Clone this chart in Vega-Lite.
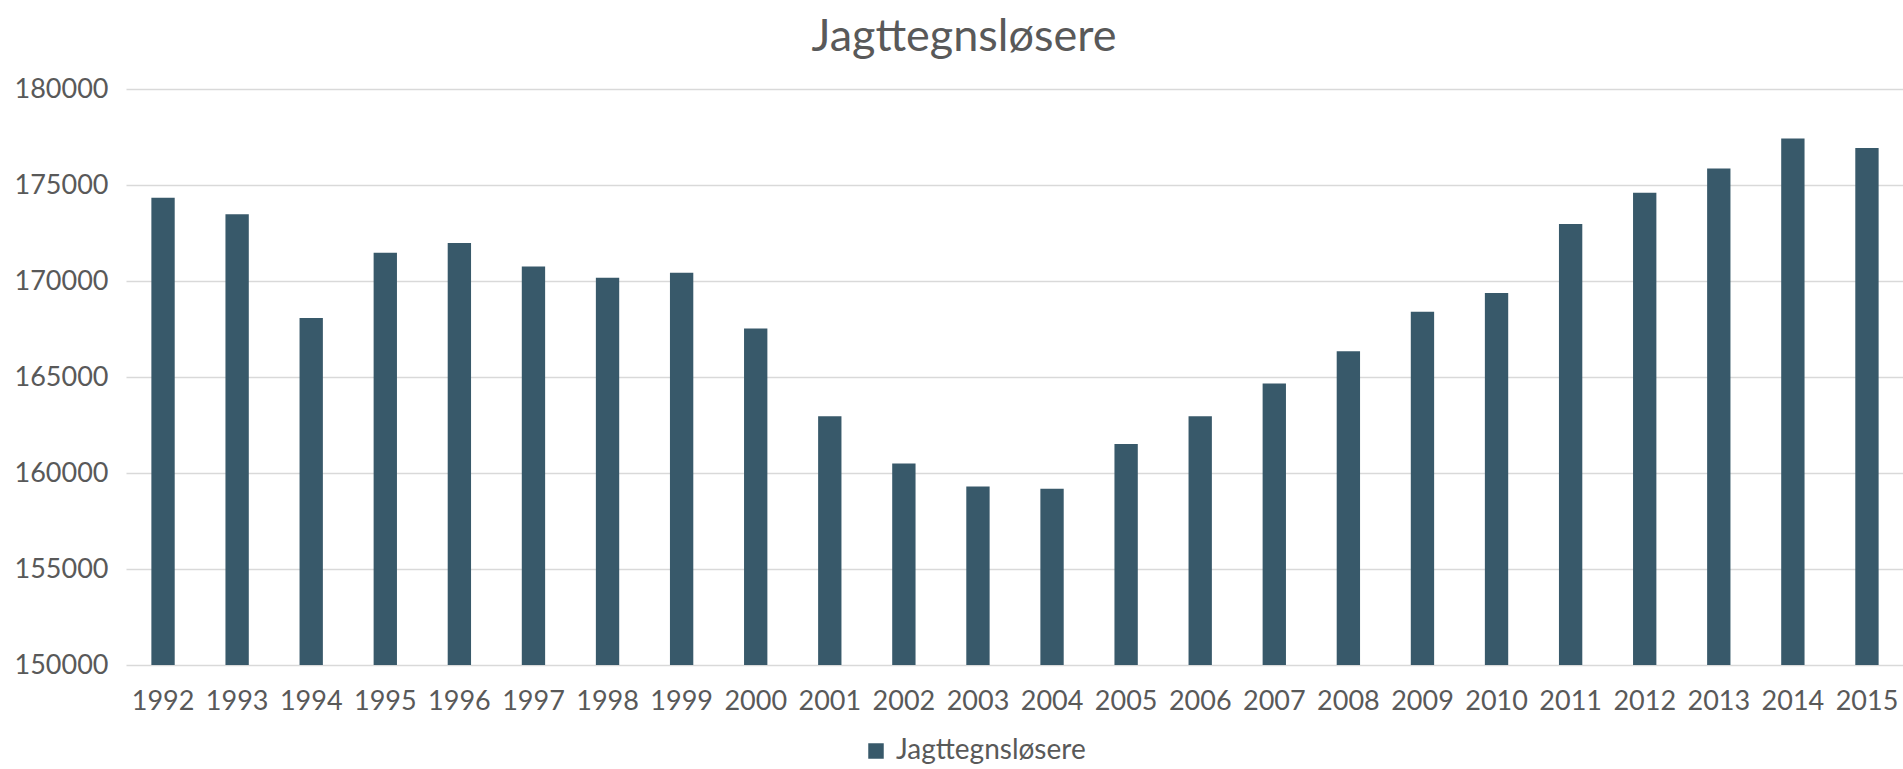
{
  "$schema": "https://vega.github.io/schema/vega-lite/v6.json",
  "autosize": "none",
  "padding": {"left": 126, "top": 89, "right": 0, "bottom": 104},
  "width": 1778,
  "height": 576,
  "background": "white",
  "title": {
    "text": "Jagttegnsløsere",
    "fontSize": 45,
    "font": "Lato",
    "fontWeight": "normal",
    "color": "#595959",
    "anchor": "middle",
    "dx": -51,
    "offset": 15
  },
  "data": {
    "values": [
      {"year": "1992", "value": 174330, "serie": "Jagttegnsløsere"},
      {"year": "1993", "value": 173480, "serie": "Jagttegnsløsere"},
      {"year": "1994", "value": 168070, "serie": "Jagttegnsløsere"},
      {"year": "1995", "value": 171470, "serie": "Jagttegnsløsere"},
      {"year": "1996", "value": 171975, "serie": "Jagttegnsløsere"},
      {"year": "1997", "value": 170750, "serie": "Jagttegnsløsere"},
      {"year": "1998", "value": 170170, "serie": "Jagttegnsløsere"},
      {"year": "1999", "value": 170430, "serie": "Jagttegnsløsere"},
      {"year": "2000", "value": 167530, "serie": "Jagttegnsløsere"},
      {"year": "2001", "value": 162960, "serie": "Jagttegnsløsere"},
      {"year": "2002", "value": 160500, "serie": "Jagttegnsløsere"},
      {"year": "2003", "value": 159300, "serie": "Jagttegnsløsere"},
      {"year": "2004", "value": 159180, "serie": "Jagttegnsløsere"},
      {"year": "2005", "value": 161505, "serie": "Jagttegnsløsere"},
      {"year": "2006", "value": 162950, "serie": "Jagttegnsløsere"},
      {"year": "2007", "value": 164665, "serie": "Jagttegnsløsere"},
      {"year": "2008", "value": 166335, "serie": "Jagttegnsløsere"},
      {"year": "2009", "value": 168400, "serie": "Jagttegnsløsere"},
      {"year": "2010", "value": 169370, "serie": "Jagttegnsløsere"},
      {"year": "2011", "value": 172970, "serie": "Jagttegnsløsere"},
      {"year": "2012", "value": 174600, "serie": "Jagttegnsløsere"},
      {"year": "2013", "value": 175860, "serie": "Jagttegnsløsere"},
      {"year": "2014", "value": 177420, "serie": "Jagttegnsløsere"},
      {"year": "2015", "value": 176930, "serie": "Jagttegnsløsere"}
    ]
  },
  "mark": {"type": "bar", "clip": true},
  "encoding": {
    "x": {
      "field": "year",
      "type": "ordinal",
      "sort": null,
      "scale": {"paddingInner": 0.685, "paddingOuter": 0.3425},
      "axis": {
        "title": null,
        "labelAngle": 0,
        "labelFontSize": 27,
        "labelFont": "Lato",
        "labelColor": "#595959",
        "labelPadding": 23,
        "ticks": false,
        "domain": false,
        "grid": false
      }
    },
    "y": {
      "field": "value",
      "type": "quantitative",
      "scale": {"domain": [150000, 180000], "nice": false, "zero": false},
      "axis": {
        "title": null,
        "values": [150000, 155000, 160000, 165000, 170000, 175000, 180000],
        "format": "d",
        "labelFontSize": 27,
        "labelFont": "Lato",
        "labelColor": "#595959",
        "labelPadding": 18,
        "ticks": false,
        "domain": false,
        "grid": true,
        "gridColor": "#d9d9d9",
        "gridWidth": 1.5
      }
    },
    "y2": {"datum": 150000},
    "color": {
      "field": "serie",
      "type": "nominal",
      "scale": {"range": ["#38596a"]},
      "legend": {
        "title": null,
        "orient": "none",
        "legendX": 736,
        "legendY": 648,
        "padding": 0,
        "direction": "horizontal",
        "symbolType": "square",
        "symbolSize": 240,
        "symbolStrokeWidth": 0,
        "labelFontSize": 28,
        "labelFont": "Lato",
        "labelColor": "#595959",
        "labelLimit": 500,
        "labelOffset": 6
      }
    }
  },
  "config": {
    "view": {"stroke": null}
  }
}
